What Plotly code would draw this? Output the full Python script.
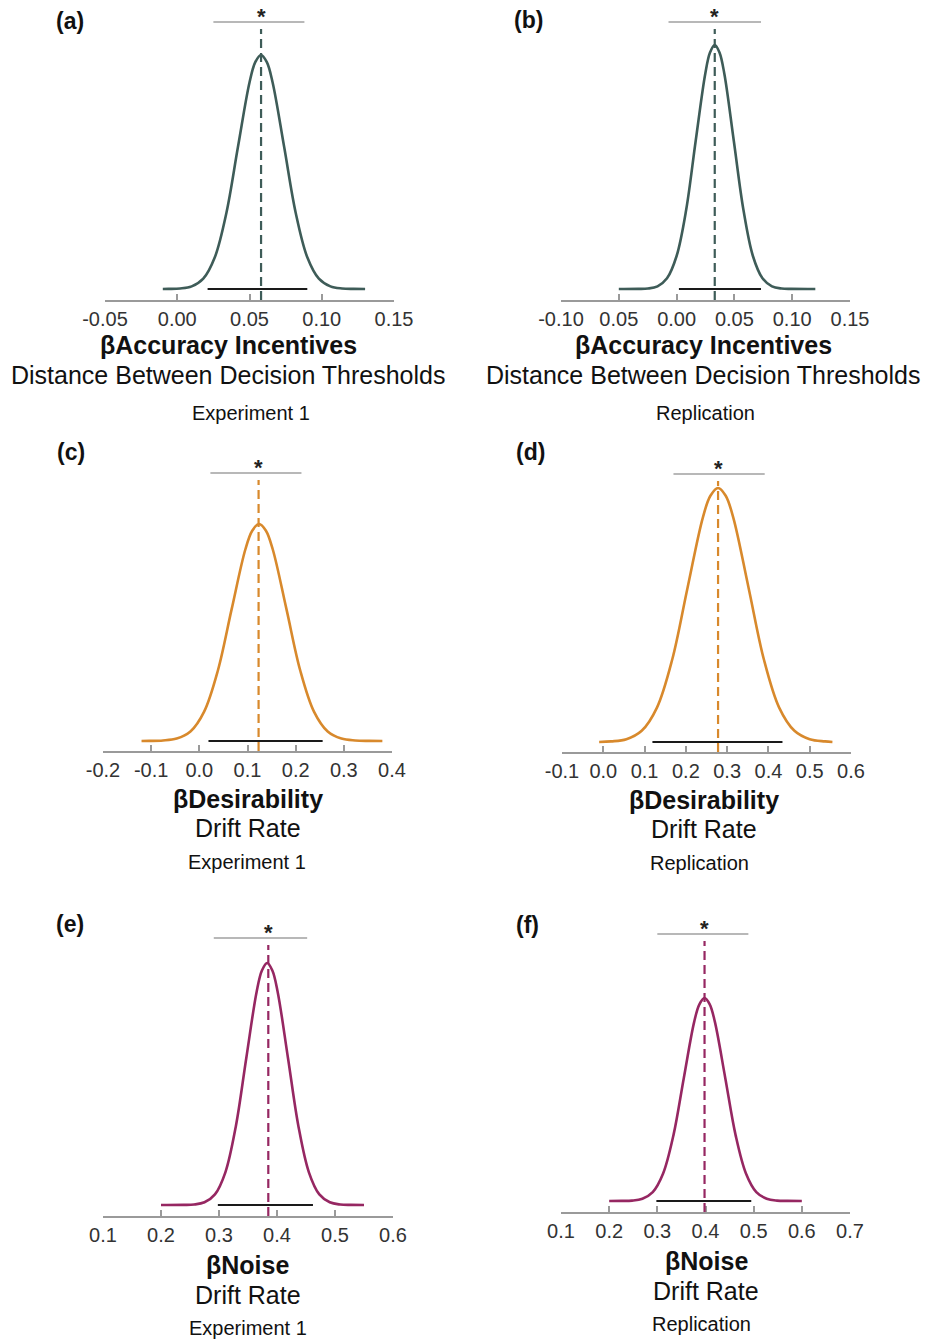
import plotly.graph_objects as go

# ---------------- posterior densities (x, relative density) ----------------
x_a = [-0.010, -0.006, 0.002, 0.010, 0.018, 0.026, 0.034, 0.042, 0.050, 0.054, 0.058,
       0.062, 0.066, 0.074, 0.082, 0.090, 0.098, 0.106, 0.114, 0.122, 0.130]
dens_a = [0.0, 0.01, 0.05, 0.26, 1.03, 3.17, 7.60, 14.19, 20.65, 22.68, 23.4,
          22.68, 20.65, 14.19, 7.60, 3.17, 1.03, 0.26, 0.05, 0.01, 0.0]

x_b = [-0.050, -0.033, -0.0248, -0.0165, -0.0083, 0.000, 0.0083, 0.0165, 0.0248, 0.0289,
       0.033, 0.0371, 0.0413, 0.0495, 0.0578, 0.066, 0.0743, 0.0825, 0.0908, 0.099, 0.120]
dens_b = [0.0, 0.01, 0.05, 0.27, 1.07, 3.30, 7.92, 14.80, 21.53, 23.65,
          24.4, 23.65, 21.53, 14.80, 7.92, 3.30, 1.07, 0.27, 0.05, 0.01, 0.0]

x_c = [-0.120, -0.104, -0.0755, -0.047, -0.0185, 0.010, 0.0385, 0.067, 0.0955, 0.1098,
       0.124, 0.1383, 0.1525, 0.181, 0.2095, 0.238, 0.2665, 0.295, 0.3235, 0.352, 0.380]
dens_c = [0.0, 0.01, 0.05, 0.24, 0.95, 2.94, 7.05, 13.16, 19.15, 21.03,
          21.7, 21.03, 19.15, 13.16, 7.05, 2.94, 0.95, 0.24, 0.05, 0.01, 0.0]

x_d = [-0.010, 0.019, 0.056, 0.093, 0.130, 0.167, 0.204, 0.241, 0.2595, 0.278,
       0.2965, 0.315, 0.352, 0.389, 0.426, 0.463, 0.500, 0.537, 0.555]
dens_d = [0.0, 0.06, 0.28, 1.12, 3.44, 8.25, 15.41, 22.42, 24.62, 25.4,
          24.62, 22.42, 15.41, 8.25, 3.44, 1.12, 0.28, 0.06, 0.0]

x_e = [0.200, 0.239, 0.257, 0.275, 0.293, 0.311, 0.329, 0.347, 0.365, 0.374, 0.383,
       0.392, 0.401, 0.419, 0.437, 0.455, 0.473, 0.491, 0.509, 0.527, 0.550]
dens_e = [0.0, 0.01, 0.05, 0.27, 1.06, 3.27, 7.86, 14.68, 21.36, 23.45, 24.2,
          23.45, 21.36, 14.68, 7.86, 3.27, 1.06, 0.27, 0.05, 0.01, 0.0]

x_f = [0.200, 0.226, 0.2475, 0.269, 0.2905, 0.312, 0.3335, 0.355, 0.3765, 0.3873, 0.398,
       0.4088, 0.4195, 0.441, 0.4625, 0.484, 0.5055, 0.527, 0.5485, 0.570, 0.600]
dens_f = [0.0, 0.01, 0.04, 0.23, 0.89, 2.75, 6.59, 12.31, 17.91, 19.67, 20.3,
          19.67, 17.91, 12.31, 6.59, 2.75, 0.89, 0.23, 0.04, 0.01, 0.0]

# posterior means, 95% HDI and significance brackets (panels a-f)
post_mean = [0.058, 0.033, 0.123, 0.278, 0.385, 0.398]
hdi_lo = [0.021, 0.002, 0.019, 0.119, 0.298, 0.298]
hdi_hi = [0.090, 0.073, 0.256, 0.434, 0.462, 0.495]
sig_lo = [0.025, -0.007, 0.023, 0.170, 0.291, 0.300]
sig_hi = [0.088, 0.073, 0.212, 0.391, 0.452, 0.489]

# axis ticks
ticks_a = [-0.05, 0.00, 0.05, 0.10, 0.15]
labels_a = ["-0.05", "0.00", "0.05", "0.10", "0.15"]
ticks_b = [-0.10, -0.05, 0.00, 0.05, 0.10, 0.15]
labels_b = ["-0.10", "0.05", "0.00", "0.05", "0.10", "0.15"]
ticks_c = [-0.2, -0.1, 0.0, 0.1, 0.2, 0.3, 0.4]
labels_c = ["-0.2", "-0.1", "0.0", "0.1", "0.2", "0.3", "0.4"]
ticks_d = [-0.1, 0.0, 0.1, 0.2, 0.3, 0.4, 0.5, 0.6]
labels_d = ["-0.1", "0.0", "0.1", "0.2", "0.3", "0.4", "0.5", "0.6"]
ticks_e = [0.1, 0.2, 0.3, 0.4, 0.5, 0.6]
labels_e = ["0.1", "0.2", "0.3", "0.4", "0.5", "0.6"]
ticks_f = [0.1, 0.2, 0.3, 0.4, 0.5, 0.6, 0.7]
labels_f = ["0.1", "0.2", "0.3", "0.4", "0.5", "0.6", "0.7"]

panel_tags = ["(a)", "(b)", "(c)", "(d)", "(e)", "(f)"]
param_names = ["βAccuracy Incentives", "βAccuracy Incentives",
               "βDesirability", "βDesirability", "βNoise", "βNoise"]
param_desc = ["Distance Between Decision Thresholds", "Distance Between Decision Thresholds",
              "Drift Rate", "Drift Rate", "Drift Rate", "Drift Rate"]
study = ["Experiment 1", "Replication", "Experiment 1", "Replication",
         "Experiment 1", "Replication"]

# ---------------- styling / geometry ----------------
W, H = 925, 1340
FONT = "Liberation Sans, Arial, sans-serif"
COLORS = ["#3e5c58", "#3e5c58", "#d8892c", "#d8892c", "#962762", "#962762"]
AXIS_GREY = "#9a9a9a"
PLOT_H = 290          # pixel height of each panel's plotting band
PX_PER_UNIT = 10.0    # vertical pixels per density unit

# (left px, right px, axis-line px) for each panel
frames = [(105, 394, 300), (561, 850, 300),
          (103, 392, 751), (562, 851, 752),
          (103, 393, 1216), (561, 850, 1212)]
base_gap = [11, 11, 10, 10, 11, 11]          # gap between axis line and zero density
title_x = [228, 703, 248, 704, 248, 706]
study_x = [251, 705, 247, 699, 248, 701]
row_offsets = [(45, 75, 113), (45, 75, 113), (48, 77, 111), (48, 77, 111),
               (49, 79, 112), (49, 79, 112)]
tag_pos = [(54, 21), (512, 20), (55, 452), (514, 452), (54, 924), (514, 925)]

curves = [(x_a, dens_a), (x_b, dens_b), (x_c, dens_c),
          (x_d, dens_d), (x_e, dens_e), (x_f, dens_f)]
ticks = [(ticks_a, labels_a), (ticks_b, labels_b), (ticks_c, labels_c),
         (ticks_d, labels_d), (ticks_e, labels_e), (ticks_f, labels_f)]


def py(p):
    return 1 - p / H


fig = go.Figure()
shapes = []
annotations = []

for i in range(6):
    n = i + 1
    xs = "x" if n == 1 else f"x{n}"
    ys = "y" if n == 1 else f"y{n}"
    left, right, axis_px = frames[i]
    tv, tt = ticks[i]
    ymin = -base_gap[i] / PX_PER_UNIT
    ymax = ymin + PLOT_H / PX_PER_UNIT

    fig.layout[f"xaxis{'' if n == 1 else n}"] = dict(
        domain=[left / W, right / W], range=[tv[0], tv[-1]], anchor=ys,
        showline=True, linecolor=AXIS_GREY, linewidth=1.5,
        ticks="inside", ticklen=6, tickwidth=1.5, tickcolor=AXIS_GREY,
        tickvals=tv, ticktext=tt, showgrid=False, zeroline=False,
        tickfont=dict(family=FONT, size=20, color="#333333"),
        automargin=False, fixedrange=True,
    )
    fig.layout[f"yaxis{'' if n == 1 else n}"] = dict(
        domain=[py(axis_px), py(axis_px - PLOT_H)], range=[ymin, ymax],
        anchor=xs, visible=False, automargin=False, fixedrange=True,
    )

    cx, cy = curves[i]
    fig.add_trace(go.Scatter(
        x=cx, y=cy, mode="lines", xaxis=xs, yaxis=ys,
        line=dict(color=COLORS[i], width=2.6, shape="spline", smoothing=1.0),
        hoverinfo="skip", showlegend=False,
    ))
    # 95% HDI
    fig.add_trace(go.Scatter(
        x=[hdi_lo[i], hdi_hi[i]], y=[0, 0], mode="lines", xaxis=xs, yaxis=ys,
        line=dict(color="#1a1a1a", width=2.2),
        hoverinfo="skip", showlegend=False,
    ))
    # posterior mean marker
    shapes.append(dict(
        type="line", xref=xs, yref=f"{ys} domain",
        x0=post_mean[i], x1=post_mean[i], y0=0, y1=271 / PLOT_H,
        line=dict(color=COLORS[i], width=2.2, dash="9px,5px"),
    ))
    # significance bracket
    shapes.append(dict(
        type="line", xref=xs, yref=f"{ys} domain",
        x0=sig_lo[i], x1=sig_hi[i], y0=278 / PLOT_H, y1=278 / PLOT_H,
        line=dict(color="#a0a0a0", width=1.5),
    ))
    annotations.append(dict(
        x=post_mean[i], y=278 / PLOT_H, xref=xs, yref=f"{ys} domain",
        text="<b>*</b>", showarrow=False, yanchor="bottom", yshift=-9,
        font=dict(family=FONT, size=22, color="#222222"),
    ))

    o1, o2, o3 = row_offsets[i]
    annotations.append(dict(
        x=title_x[i] / W, y=py(axis_px + o1), xref="paper", yref="paper",
        text=f"<b>{param_names[i]}</b>", showarrow=False,
        xanchor="center", yanchor="middle",
        font=dict(family=FONT, size=25, color="#111111"),
    ))
    annotations.append(dict(
        x=title_x[i] / W, y=py(axis_px + o2), xref="paper", yref="paper",
        text=param_desc[i], showarrow=False,
        xanchor="center", yanchor="middle",
        font=dict(family=FONT, size=25, color="#111111"),
    ))
    annotations.append(dict(
        x=study_x[i] / W, y=py(axis_px + o3), xref="paper", yref="paper",
        text=study[i], showarrow=False,
        xanchor="center", yanchor="middle",
        font=dict(family=FONT, size=20, color="#111111"),
    ))
    tx, ty = tag_pos[i]
    annotations.append(dict(
        x=tx / W, y=py(ty), xref="paper", yref="paper",
        text=f"<b>{panel_tags[i]}</b>", showarrow=False,
        xanchor="left", yanchor="middle",
        font=dict(family=FONT, size=23, color="#111111"),
    ))

fig.update_layout(
    width=W, height=H, margin=dict(l=0, r=0, t=0, b=0, autoexpand=False),
    paper_bgcolor="white", plot_bgcolor="white",
    showlegend=False, shapes=shapes, annotations=annotations,
)

fig.write_html("out.html")
